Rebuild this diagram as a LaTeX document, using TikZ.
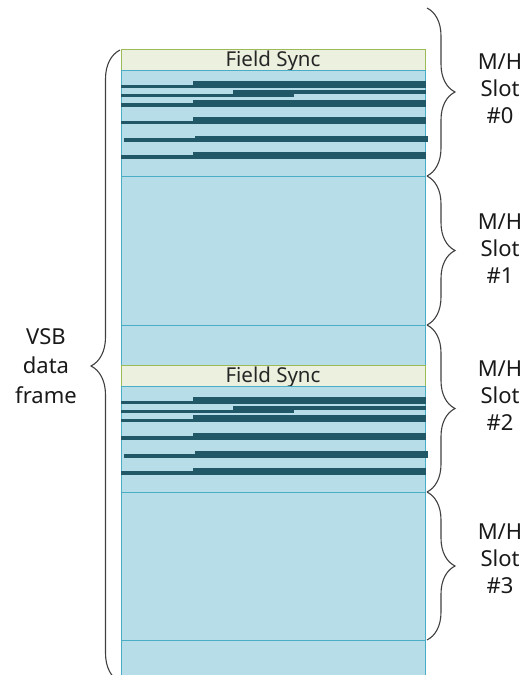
\documentclass[tikz,border=0pt]{standalone}
\usepackage{fontspec}
\setmainfont{Noto Sans}
\usetikzlibrary{decorations.pathreplacing}
\definecolor{slotblue}{HTML}{B7DDE8}
\definecolor{slotedge}{HTML}{4BACC6}
\definecolor{syncfill}{HTML}{EBF1DE}
\definecolor{syncedge}{HTML}{9BBB59}
\definecolor{stripecol}{HTML}{215868}
\definecolor{bracegray}{HTML}{404040}
\tikzset{
  area/.style={draw=slotedge, fill=slotblue, line width=0.9pt, minimum width=304pt,
    inner sep=0pt, outer sep=0pt, anchor=north west},
  syncbar/.style={draw=syncedge, fill=syncfill, line width=0.9pt, minimum width=304pt,
    minimum height=21pt, inner sep=0pt, outer sep=0pt, anchor=north west,
    font=\fontsize{20.5}{21}\selectfont, text height=14.5pt, text depth=0pt, text=black!85},
  bracedraw/.style={draw=bracegray, line width=1.1pt,
    decorate, decoration={brace, amplitude=#1}},
  slotlabel/.style={align=center, font=\fontsize{22}{27}\selectfont, inner sep=0pt, text=black!90},
  framelabel/.style={align=center, font=\fontsize{22}{29.5}\selectfont, inner sep=0pt, text=black!90}
}
\begin{document}
\begin{tikzpicture}[x=1pt, y=-1pt]
\useasboundingbox (0,0) rectangle (529,675);
% column
\node[syncbar] (fs1) at (121,49) {Field Sync};
\node[area, minimum height=106pt] (a0) at (121,70) {};
\node[area, minimum height=149pt] (a1) at (121,176) {};
\node[area, minimum height=40pt] (a2a) at (121,325) {};
\node[syncbar] (fs2) at (121,365) {Field Sync};
\node[area, minimum height=106pt] (a2) at (121,386) {};
\node[area, minimum height=148pt] (a3) at (121,492) {};
\node[area, minimum height=50pt] (a4) at (121,640) {};
% stripes
\foreach \t in {70,385.5}{
  \foreach \xa/\ya/\xb/\yb in {193/11/426/18, 121/15/193/18,
      233/20/426/24, 121/24/294/27.3,
      193/29.5/426/36.5, 121/33/193/36.5,
      193/47/426/54, 121/50.5/193/54,
      195/65.5/428/72, 124/68/195/72,
      193/82/426/89, 121/85/193/89}
    \fill[stripecol] (\xa,\t+\ya) rectangle (\xb,\t+\yb);
}
% braces
\coordinate (r0t) at (427,8);
\coordinate (r0b) at (427,176);
\coordinate (r1b) at (427,325);
\coordinate (r2b) at (427,492);
\coordinate (r3b) at (427,640);
\coordinate (lt) at (120,50);
\coordinate (lb) at (120,682);
\draw[bracedraw=28pt] (r0t) -- (r0b);
\draw[bracedraw=28pt] (r0b) -- (r1b);
\draw[bracedraw=28pt] (r1b) -- (r2b);
\draw[bracedraw=28pt] (r2b) -- (r3b);
\draw[bracedraw=29pt] (lb) -- (lt);
% labels
\node[slotlabel] (l0) at (500,89) {M/H\\Slot\\\#0};
\node[slotlabel] (l1) at (500,249) {M/H\\Slot\\\#1};
\node[slotlabel] (l2) at (500,396) {M/H\\Slot\\\#2};
\node[slotlabel] (l3) at (500,559) {M/H\\Slot\\\#3};
\node[framelabel] (vsb) at (46,366) {VSB\\data\\frame};
\end{tikzpicture}
\end{document}
